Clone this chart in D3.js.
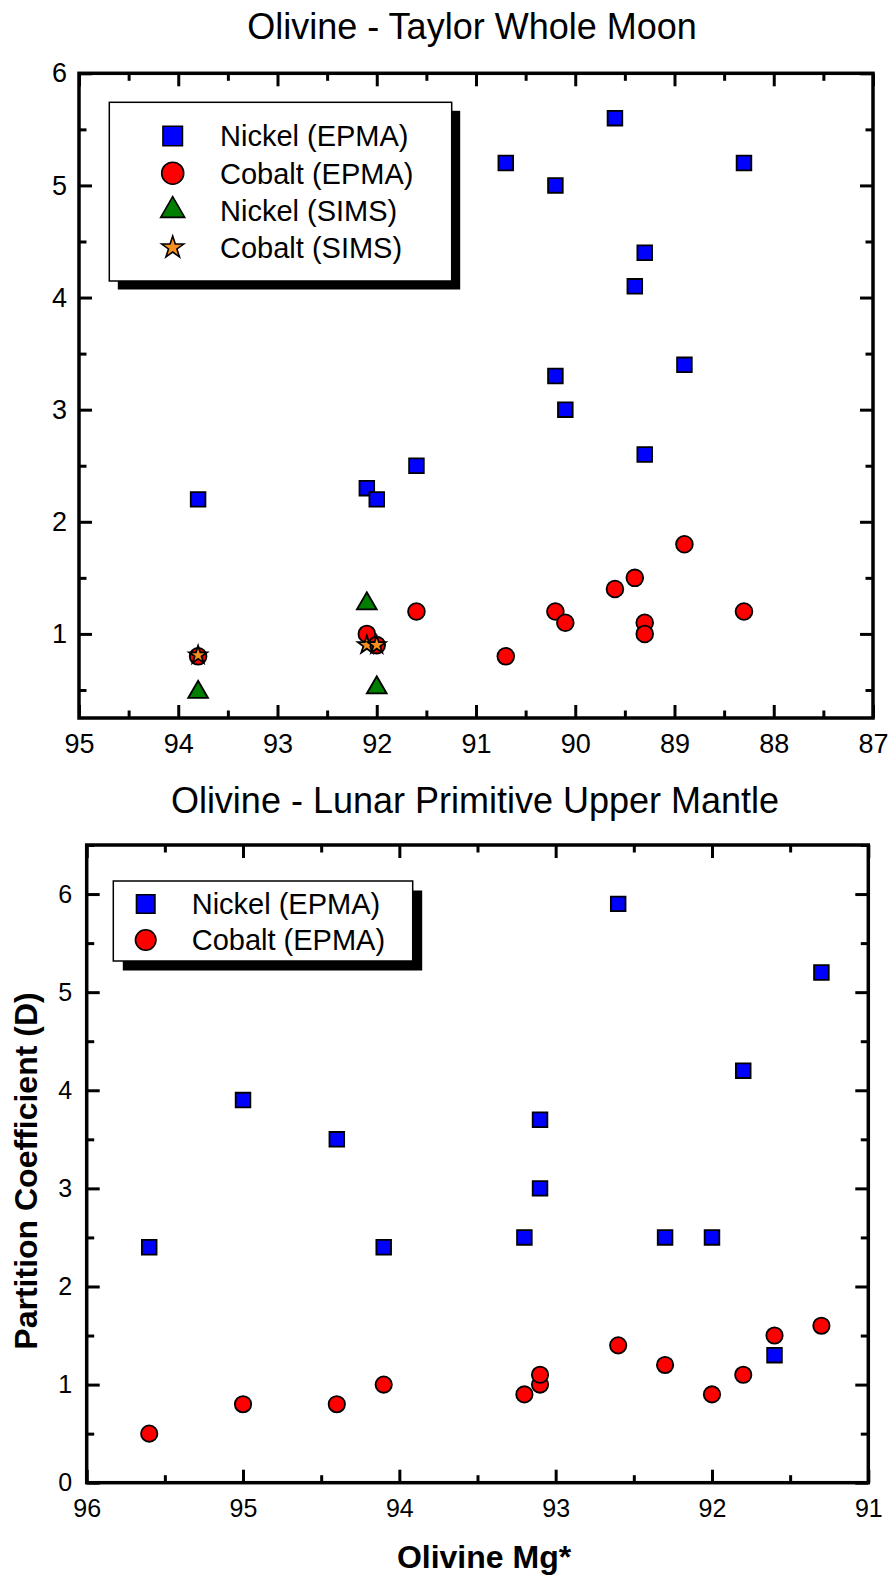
<!DOCTYPE html>
<html>
<head>
<meta charset="utf-8">
<script src="https://cdn.jsdelivr.net/npm/d3@7"></script>
<style>
  html, body { margin: 0; padding: 0; background: #fff; }
  svg { display: block; }
  text { font-family: "Liberation Sans", Arial, Helvetica, sans-serif; fill: #000; }
</style>
</head>
<body>
<svg id="chart" width="890" height="1576"></svg>
<script>
// ---------------- DATA ----------------
// Panel 1: Olivine - Taylor Whole Moon
const topTitle = "Olivine - Taylor Whole Moon";
const topXTicks = [95, 94, 93, 92, 91, 90, 89, 88, 87];
const topYTicks = [1, 2, 3, 4, 5, 6];
const topNiEpmaX = [93.8, 92.1, 92.0, 91.6, 90.7, 90.2, 89.6, 88.3, 89.3, 89.4, 88.9, 90.2, 90.1, 89.3];
const topNiEpmaY = [2.2, 2.3, 2.2, 2.5, 5.2, 5.0, 5.6, 5.2, 4.4, 4.1, 3.4, 3.3, 3.0, 2.6];
const topCoEpmaX = [93.8, 92.1, 92.0, 91.6, 90.7, 90.2, 90.1, 89.6, 89.4, 89.3, 89.3, 88.9, 88.3];
const topCoEpmaY = [0.8, 1.0, 0.9, 1.2, 0.8, 1.2, 1.1, 1.4, 1.5, 1.1, 1.0, 1.8, 1.2];
const topNiSimsX = [93.8, 92.1, 92.0];
const topNiSimsY = [0.48, 1.27, 0.52];
const topCoSimsX = [93.8, 92.1, 92.0];
const topCoSimsY = [0.81, 0.9, 0.9];
const topLegend = ["Nickel (EPMA)", "Cobalt (EPMA)", "Nickel (SIMS)", "Cobalt (SIMS)"];

// Panel 2: Olivine - Lunar Primitive Upper Mantle
const botTitle = "Olivine - Lunar Primitive Upper Mantle";
const botXTicks = [96, 95, 94, 93, 92, 91];
const botYTicks = [0, 1, 2, 3, 4, 5, 6];
const botNiEpmaX = [95.6, 95.0, 94.4, 94.1, 93.2, 93.1, 93.1, 92.6, 92.3, 92.0, 91.8, 91.6, 91.3];
const botNiEpmaY = [2.4, 3.9, 3.5, 2.4, 2.5, 3.7, 3.0, 5.9, 2.5, 2.5, 4.2, 1.3, 5.2];
const botCoEpmaX = [95.6, 95.0, 94.4, 94.1, 93.2, 93.1, 93.1, 92.6, 92.3, 92.0, 91.8, 91.6, 91.3];
const botCoEpmaY = [0.5, 0.8, 0.8, 1.0, 0.9, 1.0, 1.1, 1.4, 1.2, 0.9, 1.1, 1.5, 1.6];
const botLegend = ["Nickel (EPMA)", "Cobalt (EPMA)"];

const xAxisTitle = "Olivine Mg*";
const yAxisTitle = "Partition Coefficient (D)";

// ---------------- STYLE ----------------
const COLORS = { niE: "#0000ff", coE: "#ff0000", niS: "#007f00", coS: "#f7901e" };
const FONT = '"Liberation Sans", Arial, Helvetica, sans-serif';

const svg = d3.select("#chart");

function zip(xs, ys) { return xs.map((x, i) => ({ x: x, y: ys[i] })); }

function halfTicks(domain) {
  const lo = Math.min(domain[0], domain[1]), hi = Math.max(domain[0], domain[1]);
  const out = [];
  for (let v = Math.ceil(lo * 2) / 2; v <= hi + 1e-9; v += 0.5) {
    if (Math.abs(v - Math.round(v)) > 1e-9) out.push(v);
  }
  return out;
}

function symbolPath(type, size) {
  const map = { square: d3.symbolSquare, circle: d3.symbolCircle, triangle: d3.symbolTriangle, star: d3.symbolStar };
  return d3.symbol().type(map[type]).size(size)();
}

function drawPanel(cfg) {
  const g = svg.append("g");
  const x = d3.scaleLinear().domain(cfg.xDomain).range([cfg.left, cfg.right]);
  const y = d3.scaleLinear().domain(cfg.yDomain).range([cfg.bottom, cfg.top]);
  const major = 13, minor = 7.5;

  // title
  g.append("text")
    .attr("x", cfg.titleX).attr("y", cfg.titleY)
    .attr("text-anchor", "middle")
    .style("font-size", cfg.titleSize + "px")
    .text(cfg.title);

  const xMinor = halfTicks(cfg.xDomain);
  const yMinor = halfTicks(cfg.yDomain);

  function styleAxis(sel, fontSize) {
    sel.select(".domain").remove();
    sel.selectAll(".tick line").attr("stroke", "#000").attr("stroke-width", 3);
    sel.selectAll(".tick text").style("font-size", fontSize + "px").style("font-family", FONT).attr("fill", "#000");
  }

  // bottom axis (labels)
  g.append("g").attr("transform", `translate(0,${cfg.bottom})`)
    .call(d3.axisBottom(x).tickValues(cfg.xTicks).tickFormat(d3.format("d")).tickSize(-major).tickPadding(cfg.xPad))
    .call(s => styleAxis(s, cfg.tickFont));
  g.append("g").attr("transform", `translate(0,${cfg.bottom})`)
    .call(d3.axisBottom(x).tickValues(xMinor).tickFormat("").tickSize(-minor))
    .call(s => styleAxis(s, cfg.tickFont));
  // top axis (no labels)
  g.append("g").attr("transform", `translate(0,${cfg.top})`)
    .call(d3.axisTop(x).tickValues(cfg.xTicks).tickFormat("").tickSize(-major))
    .call(s => styleAxis(s, cfg.tickFont));
  g.append("g").attr("transform", `translate(0,${cfg.top})`)
    .call(d3.axisTop(x).tickValues(xMinor).tickFormat("").tickSize(-minor))
    .call(s => styleAxis(s, cfg.tickFont));
  // left axis (labels)
  g.append("g").attr("transform", `translate(${cfg.left},0)`)
    .call(d3.axisLeft(y).tickValues(cfg.yTicks).tickFormat(d3.format("d")).tickSize(-major).tickPadding(cfg.yPad))
    .call(s => styleAxis(s, cfg.tickFont));
  g.append("g").attr("transform", `translate(${cfg.left},0)`)
    .call(d3.axisLeft(y).tickValues(yMinor).tickFormat("").tickSize(-minor))
    .call(s => styleAxis(s, cfg.tickFont));
  // right axis (no labels)
  g.append("g").attr("transform", `translate(${cfg.right},0)`)
    .call(d3.axisRight(y).tickValues(cfg.yTicks).tickFormat("").tickSize(-major))
    .call(s => styleAxis(s, cfg.tickFont));
  g.append("g").attr("transform", `translate(${cfg.right},0)`)
    .call(d3.axisRight(y).tickValues(yMinor).tickFormat("").tickSize(-minor))
    .call(s => styleAxis(s, cfg.tickFont));

  // frame
  g.append("rect")
    .attr("x", cfg.left).attr("y", cfg.top)
    .attr("width", cfg.right - cfg.left).attr("height", cfg.bottom - cfg.top)
    .attr("fill", "none").attr("stroke", "#000").attr("stroke-width", 3.5);

  // legend
  const L = cfg.legend;
  g.append("rect")
    .attr("x", L.x + L.shadow).attr("y", L.y + L.shadow)
    .attr("width", L.w).attr("height", L.h).attr("fill", "#000");
  g.append("rect")
    .attr("x", L.x).attr("y", L.y).attr("width", L.w).attr("height", L.h)
    .attr("fill", "#fff").attr("stroke", "#000").attr("stroke-width", 1.5);
  L.items.forEach((it, i) => {
    const cy = L.firstY + i * L.rowH;
    g.append("path")
      .attr("d", symbolPath(it.type, it.legendSize))
      .attr("transform", `translate(${L.symX},${cy})`)
      .attr("fill", it.color).attr("stroke", "#000").attr("stroke-width", 1.6);
    g.append("text")
      .attr("x", L.textX).attr("y", cy)
      .attr("dy", "0.36em")
      .style("font-size", L.fontSize + "px")
      .text(it.label);
  });

  // points
  cfg.series.forEach(s => {
    g.append("g").selectAll("path")
      .data(s.data).join("path")
      .attr("d", symbolPath(s.type, s.size))
      .attr("transform", d => `translate(${x(d.x)},${y(d.y)})`)
      .attr("fill", s.color).attr("stroke", "#000").attr("stroke-width", 1.8);
  });
  return { x, y };
}

// ---------- Panel 1 ----------
drawPanel({
  title: topTitle, titleX: 472, titleY: 39, titleSize: 36,
  left: 79, right: 873, top: 73.3, bottom: 718,
  xDomain: [95, 87], yDomain: [0.25, 6],
  xTicks: topXTicks, yTicks: topYTicks,
  tickFont: 27, xPad: 16, yPad: 12,
  legend: {
    x: 109.3, y: 102.3, w: 342.4, h: 178.7, shadow: 8.5,
    symX: 172.7, textX: 220, firstY: 136, rowH: 37.2, fontSize: 29,
    items: [
      { label: topLegend[0], type: "square", color: COLORS.niE, legendSize: 380 },
      { label: topLegend[1], type: "circle", color: COLORS.coE, legendSize: 380 },
      { label: topLegend[2], type: "triangle", color: COLORS.niS, legendSize: 250 },
      { label: topLegend[3], type: "star", color: COLORS.coS, legendSize: 150 }
    ]
  },
  series: [
    { data: zip(topNiEpmaX, topNiEpmaY), type: "square", color: COLORS.niE, size: 215 },
    { data: zip(topCoEpmaX, topCoEpmaY), type: "circle", color: COLORS.coE, size: 220 },
    { data: zip(topNiSimsX, topNiSimsY), type: "triangle", color: COLORS.niS, size: 170 },
    { data: zip(topCoSimsX, topCoSimsY), type: "star", color: COLORS.coS, size: 100 }
  ]
});

// ---------- Panel 2 ----------
drawPanel({
  title: botTitle, titleX: 475, titleY: 813, titleSize: 36,
  left: 86.7, right: 868.3, top: 845, bottom: 1482.7,
  xDomain: [96, 91], yDomain: [0, 6.5],
  xTicks: botXTicks, yTicks: botYTicks,
  tickFont: 25, xPad: 17, yPad: 14.5,
  legend: {
    x: 113.3, y: 881, w: 299.4, h: 80, shadow: 9.5,
    symX: 145.7, textX: 191.7, firstY: 904, rowH: 36, fontSize: 29,
    items: [
      { label: botLegend[0], type: "square", color: COLORS.niE, legendSize: 340 },
      { label: botLegend[1], type: "circle", color: COLORS.coE, legendSize: 330 }
    ]
  },
  series: [
    { data: zip(botNiEpmaX, botNiEpmaY), type: "square", color: COLORS.niE, size: 215 },
    { data: zip(botCoEpmaX, botCoEpmaY), type: "circle", color: COLORS.coE, size: 210 }
  ]
});

// axis titles
svg.append("text")
  .attr("x", 484).attr("y", 1568)
  .attr("text-anchor", "middle")
  .style("font-size", "32px").style("font-weight", "bold")
  .text(xAxisTitle);
svg.append("text")
  .attr("transform", "translate(37,1171) rotate(-90)")
  .attr("text-anchor", "middle")
  .style("font-size", "32px").style("font-weight", "bold")
  .text(yAxisTitle);
</script>
</body>
</html>
